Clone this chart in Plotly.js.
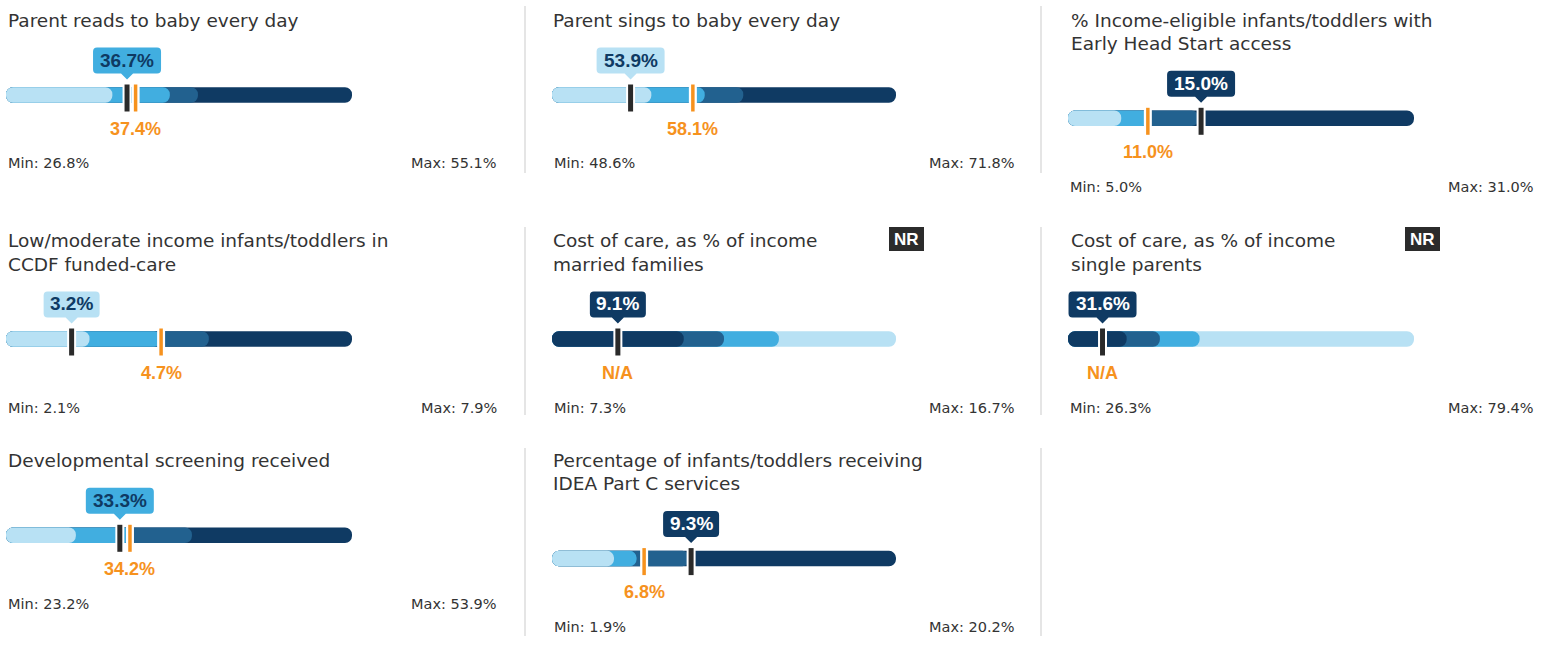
<!DOCTYPE html>
<html>
<head>
<meta charset="utf-8">
<script src="https://cdn.plot.ly/plotly-3.0.1.min.js"></script>
<style>html,body{margin:0;padding:0;background:#fff}#chart{width:1551px;height:645px}</style>
</head>
<body>
<div id="chart"></div>
<script>
// ---------- DATA ----------
const titles = [
  "Parent reads to baby every day",
  "Parent sings to baby every day",
  "% Income-eligible infants/toddlers with<br>Early Head Start access",
  "Low/moderate income infants/toddlers in<br>CCDF funded-care",
  "Cost of care, as % of income<br>married families",
  "Cost of care, as % of income<br>single parents",
  "Developmental screening received",
  "Percentage of infants/toddlers receiving<br>IDEA Part C services"
];
const stateValues    = [36.7, 53.9, 15.0, 3.2, 9.1, 31.6, 33.3, 9.3];
const nationalValues = [37.4, 58.1, 11.0, 4.7, null, null, 34.2, 6.8];
const minValues      = [26.8, 48.6, 5.0, 2.1, 7.3, 26.3, 23.2, 1.9];
const maxValues      = [55.1, 71.8, 31.0, 7.9, 16.7, 79.4, 53.9, 20.2];
const quartile1      = [35.5, 55.3, 9.0, 3.5, 10.9, 35.3, 29.4, 5.2];
const quartile2      = [40.2, 58.9, 11.1, 4.7, 12.0, 40.4, 34.3, 6.4];
const quartile3      = [42.5, 61.5, 14.8, 5.5, 13.5, 46.5, 39.7, 9.2];
const lowerIsBetter  = [false, false, false, false, true, true, false, false];
const notRanked      = [false, false, false, false, true, true, false, false];

// ---------- STYLE / LAYOUT ----------
const W = 1551, H = 645;
const COLORS = ['#b8e1f4', '#41aee0', '#22618f', '#0f3a63'];
const NAVY = '#0f3a63', ORANGE = '#f6921e', BLACK = '#2a2a2a', TEXT = '#333333';
const REG = 'DejaVu Sans, sans-serif';
const BOLD = 'Liberation Sans, Arial, sans-serif';
const barLeft  = [6, 552, 1068];
const barRight = [352, 896, 1414];
const titleX   = [7, 552, 1070];
const maxRight = [498, 1016, 1535];
const sepX     = [525, 1041];
const rowTitleCenter = [20, 240.7, 460.3];
const rowSep = [[6, 173], [227, 415], [448, 636]];
const grid = [[0,0],[1,0],[2,0],[0,1],[1,1],[2,1],[0,2],[1,2]];
const UNIT = 16;              // px per y unit
const DOMAIN_HALF = 60;       // px half height of each subplot
const BAR_T = 0.97;           // bar thickness in y units
const MARK_LEN = 27;          // marker length px
const MARKER_DROP = 3;        // px marker offset downward

const px = x => x / W;
const py = y => 1 - y / H;

const traces = [], annotations = [], shapes = [];
const layout = {
  width: W, height: H, margin: {l:0, r:0, t:0, b:0},
  paper_bgcolor: '#ffffff', plot_bgcolor: 'rgba(0,0,0,0)',
  showlegend: false, barmode: 'overlay', annotations, shapes
};

// separators
rowSep.forEach(([y0, y1]) => {
  sepX.forEach(x => {
    shapes.push({type:'line', xref:'paper', yref:'paper', x0:px(x), x1:px(x), y0:py(y0), y1:py(y1),
      line:{color:'#dddddd', width:1.5}, layer:'below'});
  });
});

titles.forEach((title, i) => {
  const [c, r] = grid[i];
  const lines = title.split('<br>');
  const bc = rowTitleCenter[r] + 75 + 23.3 * (lines.length - 1);
  const sfx = i === 0 ? '' : String(i + 1);
  const xr = 'x' + sfx, yr = 'y' + sfx;
  const yR = DOMAIN_HALF / UNIT;
  layout['xaxis' + sfx] = {domain:[px(barLeft[c]), px(barRight[c])], range:[minValues[i], maxValues[i]],
    visible:false, fixedrange:true, anchor:yr};
  layout['yaxis' + sfx] = {domain:[py(bc + DOMAIN_HALF), py(bc - DOMAIN_HALF)], range:[-yR, yR],
    visible:false, fixedrange:true, anchor:xr};

  const colorOrder = lowerIsBetter[i] ? COLORS.slice().reverse() : COLORS;
  const bounds = [quartile1[i], quartile2[i], quartile3[i], maxValues[i]];
  const lo = minValues[i];
  for (let k = 3; k >= 0; k--) {
    traces.push({type:'bar', orientation:'h', base:[lo], x:[bounds[k] - lo], y:[0],
      width:[BAR_T], marker:{color:colorOrder[k], cornerradius:'50%', line:{width:0}},
      xaxis:xr, yaxis:yr, hoverinfo:'skip'});
  }

  const markerY = -MARKER_DROP / UNIT;
  const mk = (v, color, w) => ({type:'scatter', mode:'markers', x:[v], y:[markerY],
    marker:{symbol:'line-ns', size:MARK_LEN / 1.4, color:color, line:{color:color, width:w}},
    cliponaxis:false, xaxis:xr, yaxis:yr, hoverinfo:'skip'});
  const nat = nationalValues[i], st = stateValues[i];
  if (nat != null) { traces.push(mk(nat, '#ffffff', 8)); traces.push(mk(nat, ORANGE, 3.5)); }
  traces.push(mk(st, '#ffffff', 9)); traces.push(mk(st, BLACK, 5));

  // callout
  const seg = st < bounds[0] ? 0 : st < bounds[1] ? 1 : st < bounds[2] ? 2 : 3;
  const boxColor = colorOrder[seg];
  const colorIdx = COLORS.indexOf(boxColor);
  const txtColor = colorIdx <= 1 ? NAVY : '#ffffff';
  const label = st.toFixed(1) + '%';
  const bw = 12 * label.length + 8, hw = bw / 2, rr = 4;
  const yb = 21.5, yt = 47.5, tip = 15.5, pw = 6;
  const path = `M${-pw},${yb} L0,${tip} L${pw},${yb} L${hw-rr},${yb} Q${hw},${yb} ${hw},${yb+rr} L${hw},${yt-rr} Q${hw},${yt} ${hw-rr},${yt} L${-hw+rr},${yt} Q${-hw},${yt} ${-hw},${yt-rr} L${-hw},${yb+rr} Q${-hw},${yb} ${-hw+rr},${yb} Z`;
  shapes.push({type:'path', xref:xr, yref:yr, xsizemode:'pixel', ysizemode:'pixel',
    xanchor:st, yanchor:0, path:path, fillcolor:boxColor, line:{width:0}, layer:'above'});
  annotations.push({xref:xr, yref:yr, x:st, y:0, yshift:35, text:'<b>' + label + '</b>', showarrow:false,
    xanchor:'center', yanchor:'middle', font:{family:BOLD, size:19, color:txtColor}, borderpad:0});

  // national label
  annotations.push({xref:xr, yref:yr, x:(nat != null ? nat : st), y:0, yshift:-33.8,
    text:'<b>' + (nat != null ? nat.toFixed(1) + '%' : 'N/A') + '</b>', showarrow:false,
    xanchor:'center', yanchor:'middle', font:{family:BOLD, size:18, color:ORANGE}, borderpad:0});

  // titles
  lines.forEach((ln, j) => {
    annotations.push({xref:'paper', yref:'paper', x:px(titleX[c]), y:py(rowTitleCenter[r] + 23.3 * j),
      text:ln, showarrow:false, xanchor:'left', yanchor:'middle', align:'left',
      font:{family:REG, size:18.5, color:TEXT}, borderpad:0});
  });

  // min / max
  annotations.push({xref:'paper', yref:'paper', x:px(barLeft[c] + 1), y:py(bc + 68.5),
    text:'Min: ' + minValues[i].toFixed(1) + '%', showarrow:false, xanchor:'left', yanchor:'middle',
    font:{family:REG, size:14.5, color:TEXT}, borderpad:0});
  annotations.push({xref:'paper', yref:'paper', x:px(maxRight[c]), y:py(bc + 68.5),
    text:'Max: ' + maxValues[i].toFixed(1) + '%', showarrow:false, xanchor:'right', yanchor:'middle',
    font:{family:REG, size:14.5, color:TEXT}, borderpad:0});

  // not ranked badge
  if (notRanked[i]) {
    const bx = barLeft[c] + 337, byc = rowTitleCenter[r] - 1.7;
    shapes.push({type:'rect', xref:'paper', yref:'paper', x0:px(bx), x1:px(bx + 35),
      y0:py(byc + 12), y1:py(byc - 12), fillcolor:'#2b2b2b', line:{width:0}});
    annotations.push({xref:'paper', yref:'paper', x:px(bx + 17.5), y:py(byc), text:'<b>NR</b>',
      showarrow:false, xanchor:'center', yanchor:'middle', font:{family:BOLD, size:17, color:'#ffffff'}, borderpad:0});
  }
});

Plotly.newPlot('chart', traces, layout, {staticPlot:true, displayModeBar:false});
</script>
</body>
</html>
